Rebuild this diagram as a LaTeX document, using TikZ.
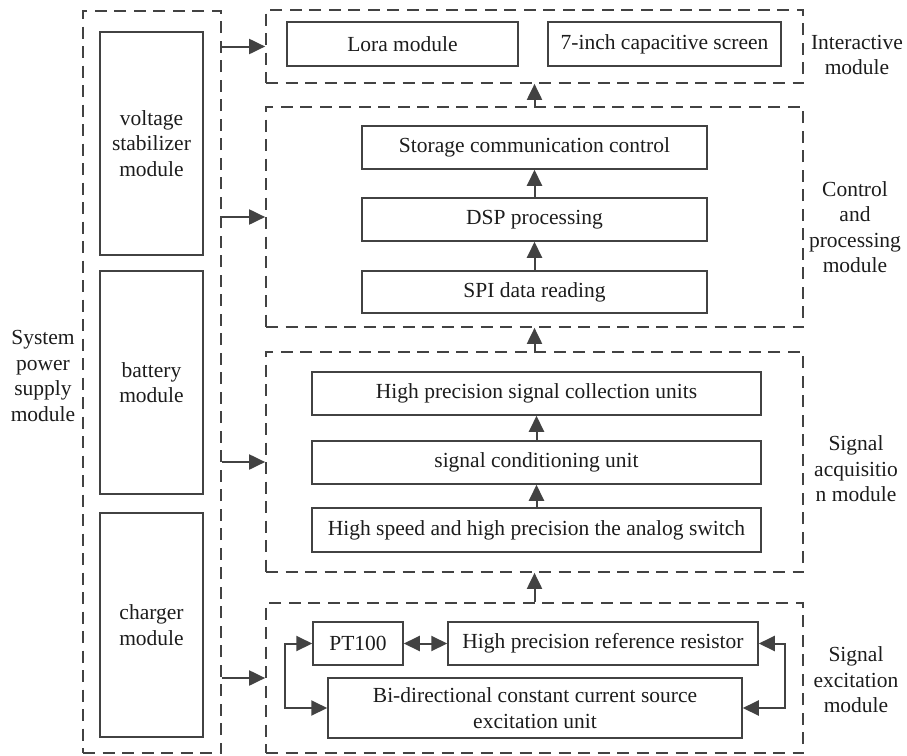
\documentclass[tikz,border=0pt]{standalone}
\usepackage{fontspec}
\setmainfont{Liberation Serif}
\usetikzlibrary{arrows.meta}
\definecolor{linec}{HTML}{424242}
\definecolor{textc}{HTML}{1c1c1c}
\tikzset{
  box/.style={draw=linec, line width=1.5pt, inner sep=0pt, text=textc, align=center},
  dbox/.style={draw=linec, line width=1.7pt, dash pattern=on 12pt off 7.5pt, inner sep=0pt},
  tip/.tip={Triangle[length=16pt,width=15pt]},
  conn/.style={draw=linec, line width=2pt, -tip},
  biconn/.style={draw=linec, line width=2pt, tip-tip},
  lbl/.style={text=textc, align=center, inner sep=0pt}
}
\begin{document}
\begin{tikzpicture}[x=1pt,y=-1pt,font=\fontsize{21.5}{25.5}\selectfont]
\useasboundingbox (0,0) rectangle (907,755);
% power supply
\node[dbox, minimum width=138pt, minimum height=742pt] (power) at (152,382) {};
\node[box, minimum width=103pt, minimum height=223pt] (volt) at (151.5,143.5) {voltage\\stabilizer\\module};
\node[box, minimum width=103pt, minimum height=223pt] (batt) at (151.5,382.5) {battery\\module};
\node[box, minimum width=103pt, minimum height=224pt] (charg) at (151.5,625) {charger\\module};
\node[lbl] (powerlbl) at (43,376) {System\\power\\supply\\module};
% interactive
\node[dbox, minimum width=537pt, minimum height=73pt] (inter) at (534.5,46.5) {};
\node[box, minimum width=231pt, minimum height=44pt] (lora) at (402.5,44) {Lora module};
\node[box, minimum width=233pt, minimum height=44pt] (screen) at (664.5,44) {7-inch capacitive screen};
\node[lbl] (interlbl) at (857,55) {Interactive\\module};
% control
\node[dbox, minimum width=537pt, minimum height=220pt] (ctrl) at (534.5,217) {};
\node[box, minimum width=345pt, minimum height=43pt] (stor) at (534.5,147.5) {Storage communication control};
\node[box, minimum width=345pt, minimum height=43pt] (dsp) at (534.5,219.5) {DSP processing};
\node[box, minimum width=345pt, minimum height=42pt] (spi) at (534.5,292) {SPI data reading};
\node[lbl] (ctrllbl) at (855,227) {Control\\and\\processing\\module};
% acquisition
\node[dbox, minimum width=537pt, minimum height=220pt] (acq) at (534.5,462) {};
\node[box, minimum width=449pt, minimum height=43pt] (hpsc) at (536.5,393.5) {High precision signal collection units};
\node[box, minimum width=449pt, minimum height=43pt] (cond) at (536.5,462.5) {signal conditioning unit};
\node[box, minimum width=449pt, minimum height=44pt] (hs) at (536.5,530) {High speed and high precision the analog switch};
\node[lbl] (acqlbl) at (856,469) {Signal\\acquisitio\\n module};
% excitation
\node[dbox, minimum width=537pt, minimum height=150pt] (exc) at (534.5,678) {};
\node[box, minimum width=90pt, minimum height=43pt] (pt) at (358,643.5) {PT100};
\node[box, minimum width=310pt, minimum height=43pt] (ref) at (603,643.5) {High precision reference resistor};
\node[box, minimum width=414pt, minimum height=60pt] (bi) at (535,708) {Bi-directional constant current source\\excitation unit};
\node[lbl] (exclbl) at (856,680) {Signal\\excitation\\module};
% power arrows
\draw[conn] (power.east |- inter.west) -- (inter.west);
\draw[conn] (power.east |- ctrl.west) -- (ctrl.west);
\draw[conn] (power.east |- acq.west) -- (acq.west);
\draw[conn] (power.east |- exc.west) -- (exc.west);
% vertical arrows
\draw[conn] (ctrl.north) -- (inter.south);
\draw[conn] (acq.north) -- (ctrl.south);
\draw[conn] (exc.north) -- (acq.south);
\draw[conn] (spi.north) -- (dsp.south);
\draw[conn] (dsp.north) -- (stor.south);
\draw[conn] (hs.north) -- (cond.south);
\draw[conn] (cond.north) -- (hpsc.south);
% excitation links
\draw[biconn] (pt.east) -- (ref.west);
\draw[biconn] (pt.west) -- ++(-27,0) |- (bi.west);
\draw[biconn] (ref.east) -- ++(26,0) |- (bi.east);
\end{tikzpicture}
\end{document}
